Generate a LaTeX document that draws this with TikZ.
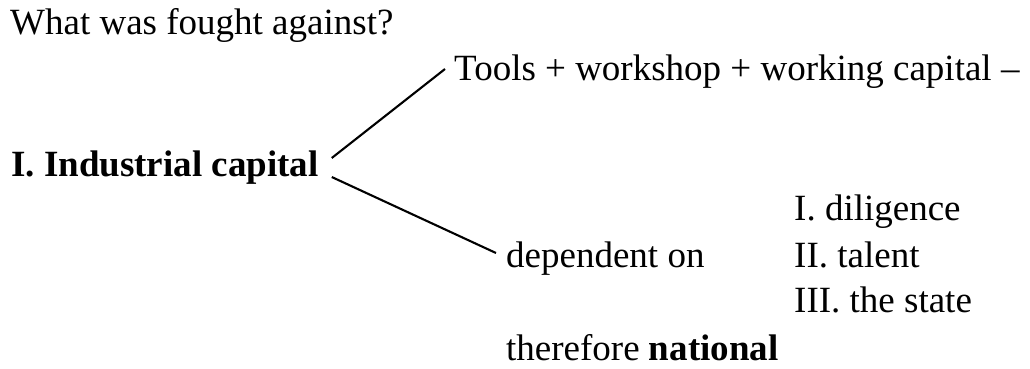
\documentclass[tikz,border=0pt]{standalone}
\usepackage{fontspec}
\setmainfont{Liberation Serif}
\usetikzlibrary{calc}
\begin{document}
\begin{tikzpicture}[x=1pt,y=-1pt,
  txt/.style={anchor=base west,inner sep=0pt,font=\fontsize{37}{44}\selectfont},
  conn/.style={line width=2.1pt}]
\useasboundingbox (0,0) rectangle (1030,368);
\node[txt] (q) at (10,34) {What was fought against?};
\node[txt] (tools) at (454,80) {Tools + workshop + working capital –};
\node[txt] (ind) at (11,176) {\textbf{I. Industrial capital}};
\node[txt] (dil) at (794,220) {I. diligence};
\node[txt] (dep) at (506,267) {dependent on};
\node[txt] (tal) at (794,267) {II. talent};
\node[txt] (sta) at (794,312) {III. the state};
\node[txt] (nat) at (506,360) {therefore \textbf{national}};
\coordinate (a1) at ($(ind.base east)+(13,-18)$);
\coordinate (a2) at ($(ind.base east)+(13,1)$);
\coordinate (b1) at ($(tools.base west)+(-9,-11)$);
\coordinate (b2) at ($(dep.base west)+(-10,-14)$);
\draw[conn] (a1) -- (b1);
\draw[conn] (a2) -- (b2);
\end{tikzpicture}
\end{document}
